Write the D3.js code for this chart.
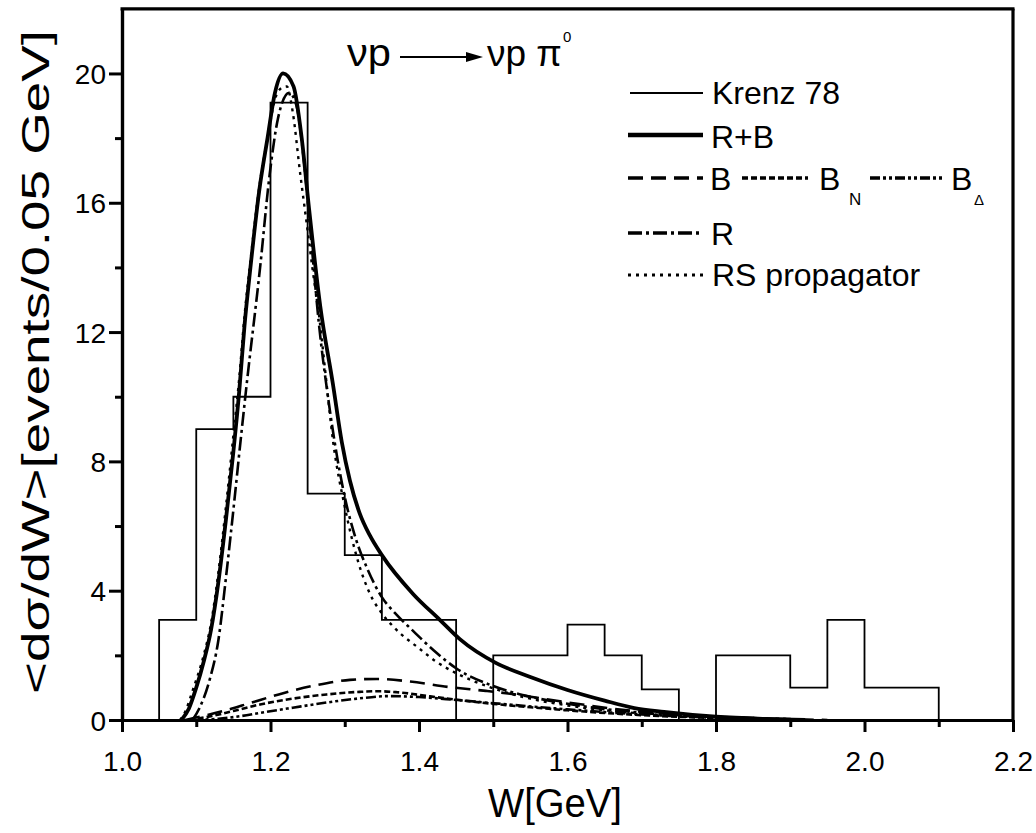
<!DOCTYPE html>
<html><head><meta charset="utf-8">
<script src="https://cdn.jsdelivr.net/npm/d3@7"></script>
<style>
body{margin:0;background:#fff;}
text{font-family:"Liberation Sans",Arial,Helvetica,sans-serif;fill:#000;}
</style></head>
<body><svg id="c" width="1036" height="833"></svg>
<script>
// ---- data ----
const xTicks = [1.0,1.2,1.4,1.6,1.8,2.0,2.2];
const xMinorTicks = [1.1,1.3,1.5,1.7,1.9,2.1];
const yTicks = [0,4,8,12,16,20];
const yMinorTicks = [2,6,10,14,18];

// Krenz 78 histogram: bin lower edges (width 0.05) and contents
const binEdges = [1.05,1.10,1.15,1.20,1.25,1.30,1.35,1.40,1.45,1.50,1.55,1.60,1.65,1.70,1.75,1.80,1.85,1.90,1.95,2.00,2.05];
const binCounts = [3.1,9.0,10.0,19.1,7.0,5.1,3.1,3.1,0,2.0,2.0,2.95,2.0,0.95,0,2.0,2.0,1.0,3.1,1.0,1.0];
const binWidth = 0.05;

// R+B (solid)
const rbW = [1.08,1.09,1.10,1.11,1.12,1.13,1.14,1.15,1.158,1.165,1.173,1.185,1.196,1.206,1.217,1.231,1.242,1.252,1.267,1.284,1.296,1.307,1.32,1.334,1.35,1.392,1.428,1.455,1.504,1.549,1.6,1.65,1.69,1.73,1.8,1.87,1.92];
const rbV = [0,0.35,1.0,1.8,2.8,4.3,6.2,8.3,10.2,12.2,14.0,16.4,18.0,19.4,20.0,19.6,18.0,15.8,12.8,10.4,8.6,7.4,6.4,5.7,5.1,3.9,3.1,2.5,1.76,1.34,0.93,0.6,0.37,0.25,0.1,0.03,0];

// B (dashed)
const bW = [1.085,1.105,1.14,1.172,1.217,1.262,1.307,1.343,1.388,1.44,1.49,1.52,1.598,1.688,1.78,1.88,1.95];
const bV = [0,0.1,0.3,0.52,0.83,1.08,1.24,1.27,1.19,1.02,0.9,0.82,0.55,0.28,0.12,0.04,0];

// B_N (short dash)
const bnW = [1.09,1.12,1.15,1.186,1.23,1.2755,1.32,1.345,1.37,1.415,1.46,1.5,1.6,1.7,1.8,1.9];
const bnV = [0,0.12,0.28,0.48,0.66,0.79,0.87,0.89,0.86,0.73,0.6,0.5,0.3,0.15,0.06,0.01];

// B_Delta (dash-dot-dot)
const bdW = [1.095,1.13,1.16,1.186,1.23,1.2755,1.32,1.36,1.4,1.45,1.5,1.6,1.7,1.8,1.9];
const bdV = [0,0.04,0.12,0.22,0.38,0.54,0.67,0.74,0.71,0.62,0.52,0.33,0.17,0.07,0.01];

// R (dash-dot)
const rW = [1.095,1.105,1.118,1.13,1.14,1.15,1.16,1.168,1.186,1.199,1.21,1.225,1.235,1.245,1.255,1.265,1.278,1.29,1.30,1.315,1.33,1.35,1.37,1.39,1.42,1.45,1.5,1.55,1.6,1.7,1.8,1.9];
const rV = [0,0.4,1.24,2.5,4.4,6.5,8.7,10.4,14.0,16.9,18.6,19.4,19.0,17.3,14.8,12.3,9.9,8.1,6.9,5.6,4.7,3.8,3.25,2.8,2.15,1.6,1.05,0.72,0.5,0.22,0.1,0.03];

// RS propagator (dotted)
const rsW = [1.078,1.085,1.095,1.11,1.12,1.13,1.14,1.15,1.158,1.165,1.173,1.185,1.196,1.206,1.215,1.222,1.23,1.24,1.2485,1.2575,1.2665,1.2732,1.2844,1.3,1.318,1.334,1.35,1.367,1.401,1.4235,1.45,1.5,1.55,1.6,1.7,1.8,1.9];
const rsV = [0,0.25,0.9,2.0,3.0,4.6,6.6,8.8,10.6,12.5,14.2,16.5,18.0,19.2,19.55,19.6,18.8,16.9,15.4,13.8,12.3,10.9,8.6,6.6,4.9,3.9,3.3,2.85,2.2,1.8,1.45,0.98,0.66,0.45,0.2,0.08,0.02];

const legendLabels = ["Krenz 78","R+B","B","B","B","R","RS propagator"];

// ---- chart ----
const svg = d3.select("#c");
const x = d3.scaleLinear().domain([1.0,2.2]).range([122,1013]);
const y = d3.scaleLinear().domain([0,22]).range([720,8.8]);

const styles = {
  krenz:{w:1.8, dash:null},
  rb:{w:3.8, dash:null},
  b:{w:2.6, dash:"15,8"},
  bn:{w:2.6, dash:"6,3"},
  bd:{w:2.6, dash:"10,3,3,3,3,3"},
  r:{w:2.6, dash:"14,4,3,4"},
  rs:{w:2.4, dash:"3,5"}
};

const line = d3.line().x(d=>x(d[0])).y(d=>y(d[1])).curve(d3.curveMonotoneX);
const zip = (a,b)=>a.map((v,i)=>[v,b[i]]);

function drawCurve(W,V,st){
  svg.append("path").datum(zip(W,V)).attr("d",line)
    .attr("fill","none").attr("stroke","#000").attr("stroke-width",st.w)
    .attr("stroke-dasharray",st.dash).attr("stroke-linejoin","round");
}

// histogram
const histPts = [[binEdges[0],0]].concat(binEdges.map((e,i)=>[e,binCounts[i]]));
const lastEdge = binEdges[binEdges.length-1]+binWidth;
histPts.push([lastEdge,binCounts[binCounts.length-1]]);
histPts.push([lastEdge,0]);
svg.append("path").datum(histPts)
  .attr("d",d3.line().x(d=>x(d[0])).y(d=>y(d[1])).curve(d3.curveStepAfter))
  .attr("fill","none").attr("stroke","#000").attr("stroke-width",styles.krenz.w);

drawCurve(bW,bV,styles.b);
drawCurve(bnW,bnV,styles.bn);
drawCurve(bdW,bdV,styles.bd);
drawCurve(rsW,rsV,styles.rs);
drawCurve(rW,rV,styles.r);
drawCurve(rbW,rbV,styles.rb);

// axes
svg.append("g").attr("transform",`translate(0,${y(0)})`)
  .call(d3.axisBottom(x).tickValues(xTicks).tickSize(12).tickSizeOuter(0).tickPadding(19).tickFormat(d3.format(".1f")));
svg.append("g").attr("transform",`translate(0,${y(0)})`)
  .call(d3.axisBottom(x).tickValues(xMinorTicks).tickSize(7).tickSizeOuter(0).tickFormat(""));
const gy = svg.append("g").attr("transform",`translate(${x(1.0)},0)`)
  .call(d3.axisLeft(y).tickValues(yTicks).tickSize(13).tickSizeOuter(0).tickPadding(3).tickFormat(d3.format("d")));
svg.append("g").attr("transform",`translate(${x(1.0)},0)`)
  .call(d3.axisLeft(y).tickValues(yMinorTicks).tickSize(7).tickSizeOuter(0).tickFormat(""));
svg.selectAll(".domain").attr("stroke","#000").attr("stroke-width",3.2);
svg.selectAll(".tick line").attr("stroke","#000").attr("stroke-width",3);
svg.selectAll(".tick text").attr("font-size",28).attr("font-family","Liberation Sans, Arial").attr("fill","#000");
gy.selectAll(".tick text").attr("dy","0.36em");

// frame top and right
svg.append("line").attr("x1",x(1.0)-1.5).attr("x2",x(2.2)+1.5).attr("y1",y(22)).attr("y2",y(22)).attr("stroke","#000").attr("stroke-width",3.2);
svg.append("line").attr("x1",x(2.2)).attr("x2",x(2.2)).attr("y1",y(22)).attr("y2",y(0)).attr("stroke","#000").attr("stroke-width",3.2);

// axis titles
svg.append("text").attr("x",555).attr("y",817).attr("text-anchor","middle")
  .attr("font-size",40).attr("textLength",134).attr("lengthAdjust","spacingAndGlyphs").text("W[GeV]");
svg.append("text").attr("transform","translate(49,362) rotate(-90)").attr("text-anchor","middle")
  .attr("font-size",39).attr("textLength",664).attr("lengthAdjust","spacingAndGlyphs").text("<dσ/dW>[events/0.05 GeV]");

// reaction title
svg.append("text").attr("x",347).attr("y",66).attr("font-size",38).attr("textLength",44).attr("lengthAdjust","spacingAndGlyphs").text("νp");
svg.append("line").attr("x1",400).attr("x2",468).attr("y1",57).attr("y2",57).attr("stroke","#000").attr("stroke-width",2);
svg.append("path").attr("d","M466,52 L483,57 L466,62 Z").attr("fill","#000");
const t2 = svg.append("text").attr("x",487).attr("y",66).attr("font-size",37);
t2.append("tspan").text("νp π");
t2.append("tspan").attr("font-size",15).attr("dx",1).attr("dy",-24).text("0");

// legend
const lg = svg.append("g");
function legLine(x1,x2,yy,st){
  lg.append("line").attr("x1",x1).attr("x2",x2).attr("y1",yy).attr("y2",yy)
    .attr("stroke","#000").attr("stroke-width",st.w+(st===styles.krenz?0:0.8)).attr("stroke-dasharray",st.dash);
}
function legText(xx,yy,txt,fs){
  return lg.append("text").attr("x",xx).attr("y",yy).attr("font-size",fs||32).text(txt);
}
legLine(630,703,93,styles.krenz); legText(712,104,legendLabels[0]);
legLine(628,703,135,styles.rb); legText(711,148,legendLabels[1]);
legLine(628,703,178,styles.b); legText(710,190,legendLabels[2]);
legLine(742,808,178,styles.bn); legText(819,190,legendLabels[3]);
legText(849,205,"N",17);
legLine(870,943,178,styles.bd); legText(951,190,legendLabels[4]);
legText(974,205,"Δ",15);
legLine(628,703,233,styles.r); legText(711,245,legendLabels[5]);
legLine(628,703,275,styles.rs); legText(712,286,legendLabels[6]);
</script></body></html>
